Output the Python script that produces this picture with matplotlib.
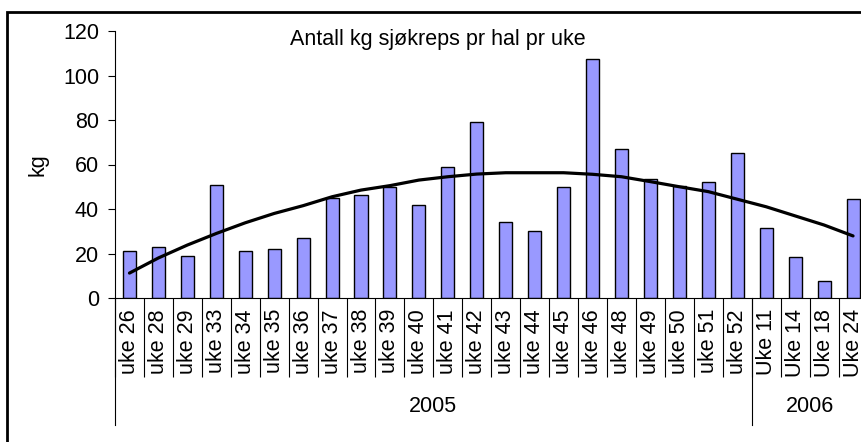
import numpy as np
import matplotlib
matplotlib.use("Agg")
import matplotlib.pyplot as plt
from matplotlib.patches import Rectangle

plt.rcParams['font.family'] = ['Liberation Sans', 'DejaVu Sans']

# data
uker = ['uke 26', 'uke 28', 'uke 29', 'uke 33', 'uke 34', 'uke 35', 'uke 36',
        'uke 37', 'uke 38', 'uke 39', 'uke 40', 'uke 41', 'uke 42', 'uke 43',
        'uke 44', 'uke 45', 'uke 46', 'uke 48', 'uke 49', 'uke 50', 'uke 51',
        'uke 52', 'Uke 11', 'Uke 14', 'Uke 18', 'Uke 24']
kg = [21, 23, 19, 51, 21, 22, 27, 45, 46.5, 50, 42, 59, 79, 34, 30, 50,
      107.5, 67, 53.5, 50.5, 52, 65, 31.5, 18.3, 7.6, 44.6]
trend = [11.2, 18, 23.8, 29, 33.8, 38, 41.5, 45.5, 48.5, 50.5, 53, 54.5,
         55.7, 56.3, 56.3, 56.3, 55.6, 54.5, 52.3, 50, 47.8, 44.4, 41, 36.9,
         32.8, 27.9]
aar = ['2005', '2006']
antall_per_aar = [22, 4]

W, H = 862, 442
fs = 15.5

fig = plt.figure(figsize=(W / 100, H / 100), dpi=100)
ax = fig.add_axes([115 / W, (H - 298) / H, 752.5 / W, 267 / H])

x = np.arange(len(uker))
ax.bar(x, kg, width=0.45, color='#9999FF', edgecolor='black', linewidth=1.0, zorder=2)
ax.plot(x, trend, color='black', lw=2.3, zorder=3, solid_capstyle='round')

ax.set_ylim(0, 120)
ax.set_yticks(np.arange(0, 121, 20))
ax.set_xlim(-0.5, len(uker) - 0.5)

for s in ['top', 'right']:
    ax.spines[s].set_visible(False)
for s in ['left', 'bottom']:
    ax.spines[s].set_linewidth(0.8)

ax.tick_params(axis='y', direction='out', length=5, width=0.8, pad=6.5, labelsize=fs)

# category separators (major) and labels (minor)
ax.set_xticks(np.arange(len(uker) + 1) - 0.5)
ax.tick_params(axis='x', which='major', direction='out', length=57, width=0.8,
               labelbottom=False)
ax.set_xticks(x, minor=True)
ax.set_xticklabels(uker, minor=True, rotation=90)
ax.tick_params(axis='x', which='minor', length=0, pad=8, labelsize=fs)

# year groups
tr = ax.get_xaxis_transform()
start = 0
for navn, n in zip(aar, antall_per_aar):
    b = start - 0.5
    ax.plot([b, b], [0, -127 / 267], transform=tr, clip_on=False, color='black', lw=0.8)
    ax.text(start + (n - 1) / 2, -109 / 267, navn, transform=tr, ha='center',
            va='center', fontsize=fs)
    start += n

fig.text(290 / W, 1 - 45 / H, 'Antall kg sjøkreps pr hal pr uke', ha='left',
         va='baseline', fontsize=fs)
fig.text(37.5 / W, 1 - 165 / H, 'kg', rotation=90, ha='center', va='center', fontsize=fs)

# outer chart border (right and bottom edges fall outside the image)
fig.add_artist(Rectangle((7 / W, -0.1), 1.2, 1.1 - 12 / H, transform=fig.transFigure,
                         fill=False, edgecolor='black', lw=2))

fig.savefig('out.png', dpi=100)
